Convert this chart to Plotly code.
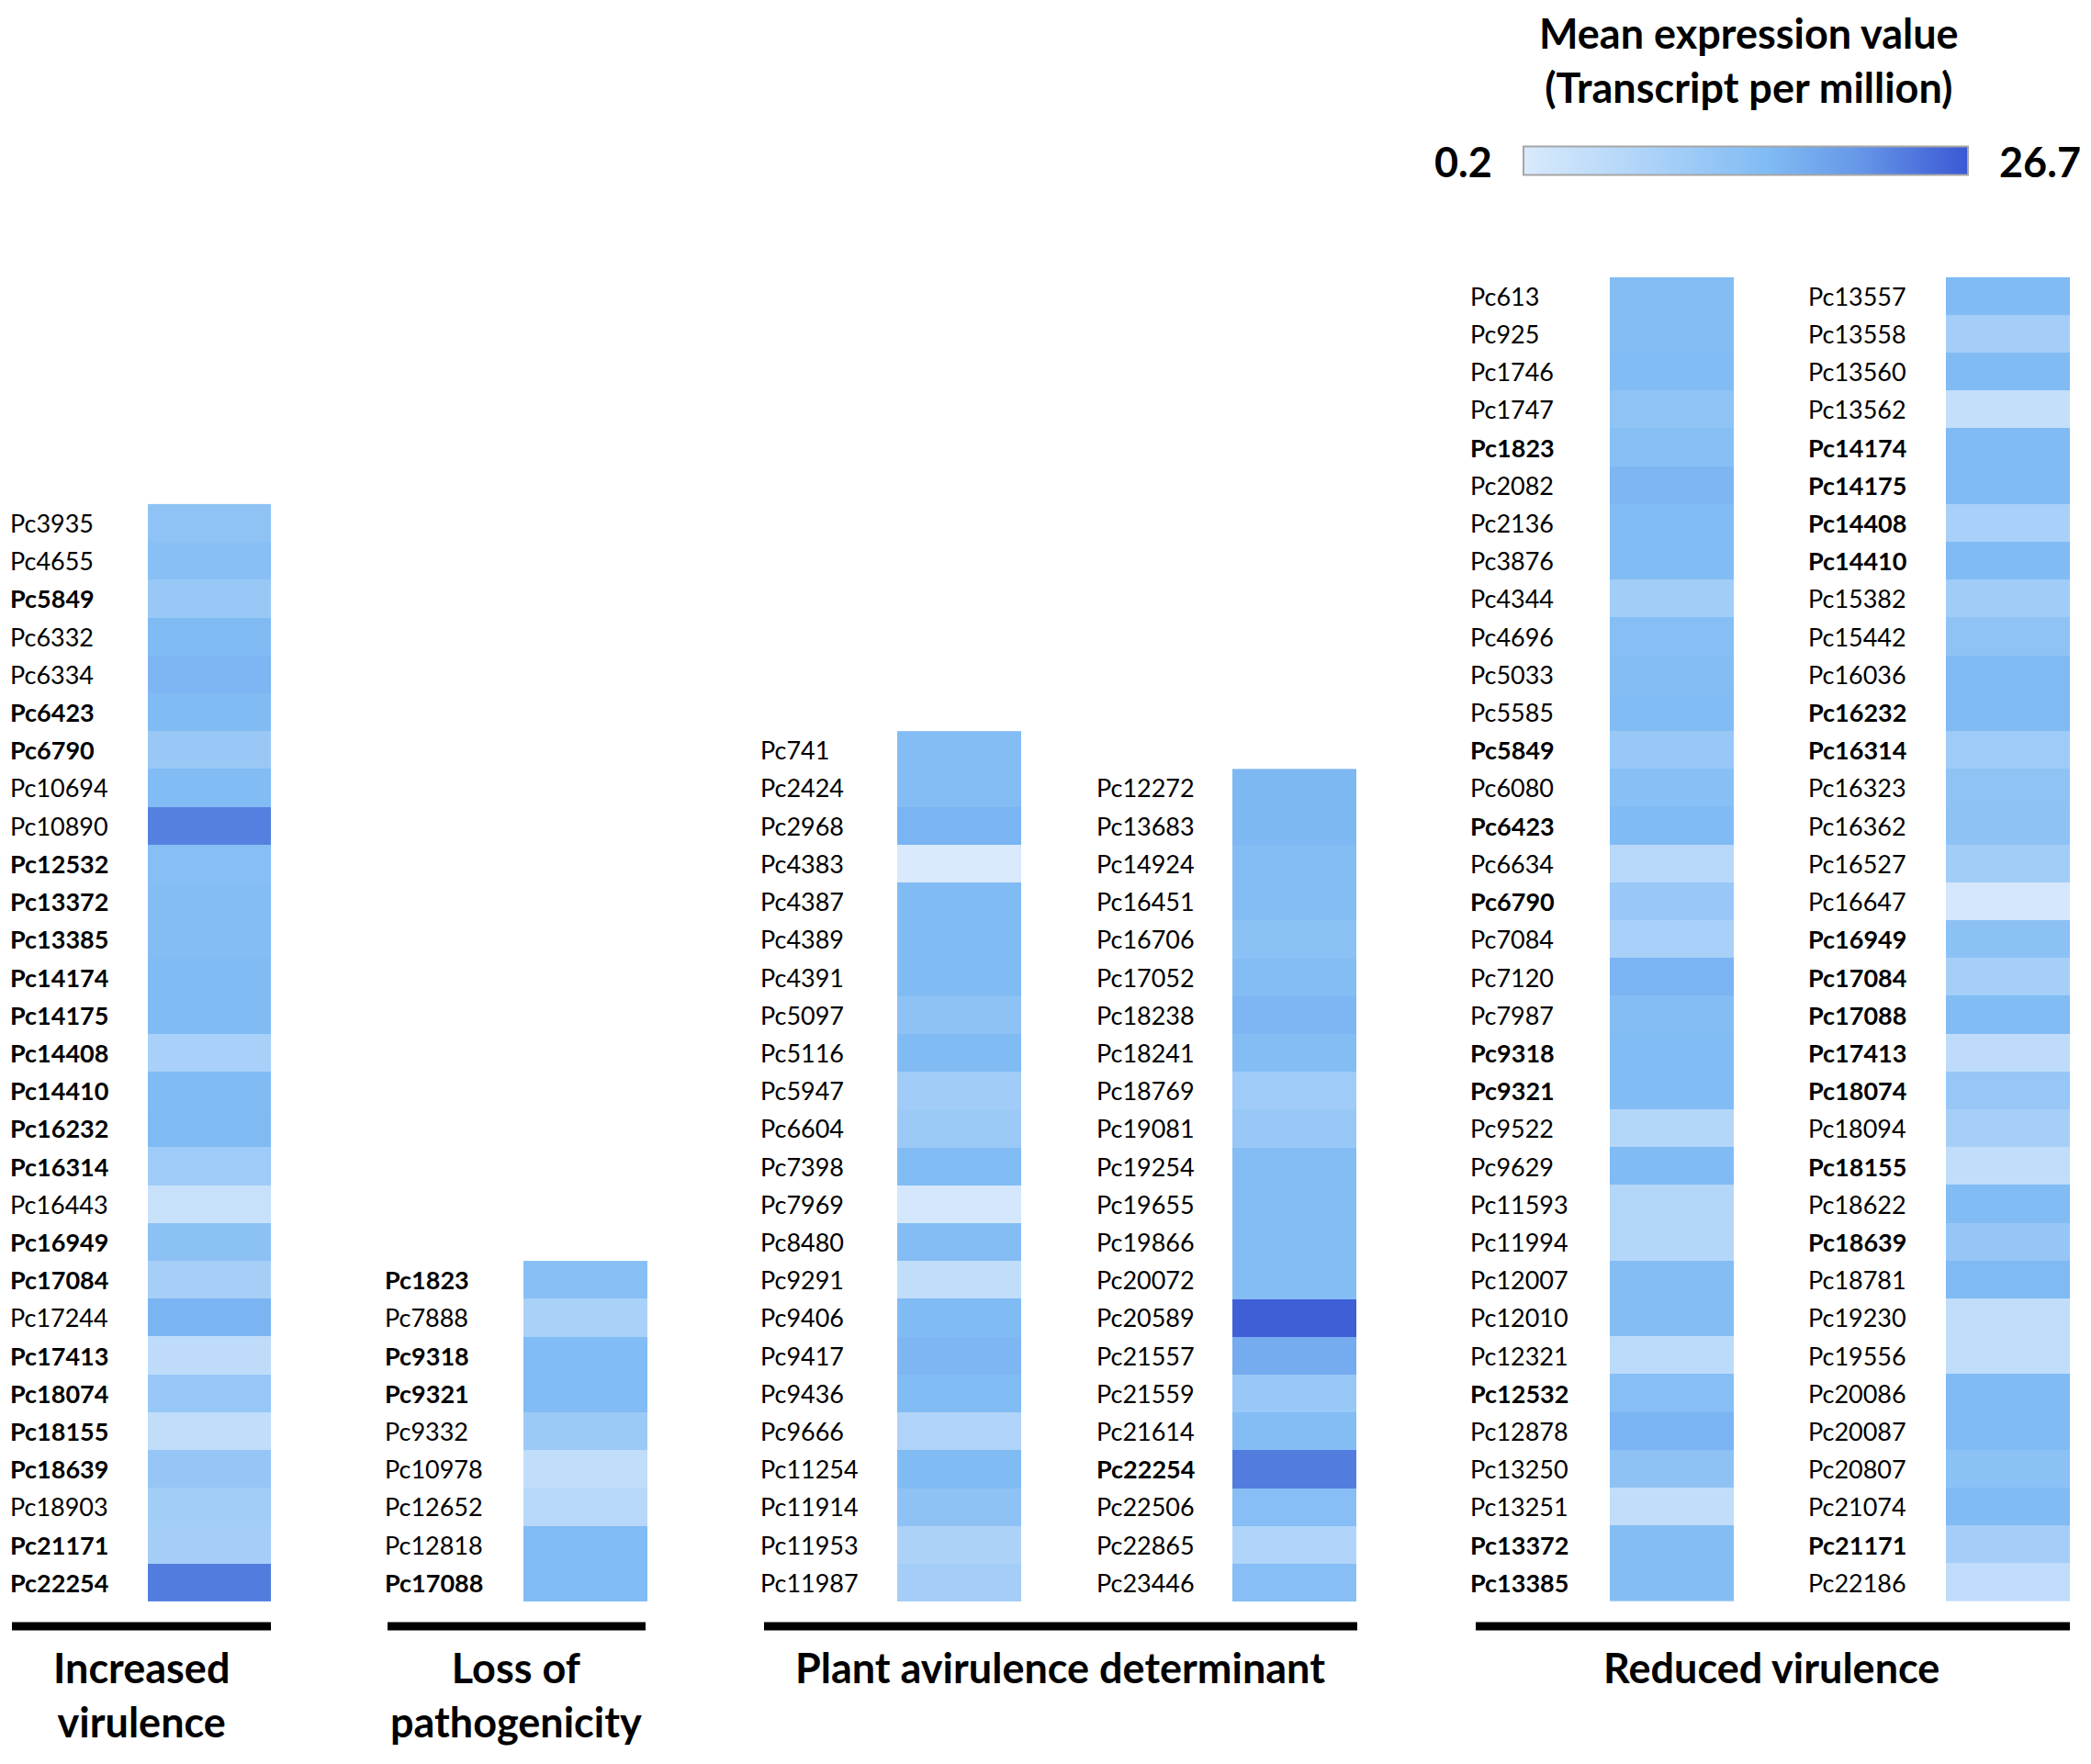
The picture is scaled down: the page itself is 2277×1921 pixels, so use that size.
import plotly.graph_objects as go

# ---------------- data ----------------
inc_genes = ["Pc3935", "Pc4655", "Pc5849", "Pc6332", "Pc6334", "Pc6423", "Pc6790", "Pc10694",
             "Pc10890", "Pc12532", "Pc13372", "Pc13385", "Pc14174", "Pc14175", "Pc14408",
             "Pc14410", "Pc16232", "Pc16314", "Pc16443", "Pc16949", "Pc17084", "Pc17244",
             "Pc17413", "Pc18074", "Pc18155", "Pc18639", "Pc18903", "Pc21171", "Pc22254"]
inc_bold = ["Pc5849", "Pc6423", "Pc6790", "Pc12532", "Pc13372", "Pc13385", "Pc14174", "Pc14175",
            "Pc14408", "Pc14410", "Pc16232", "Pc16314", "Pc16949", "Pc17084", "Pc17413",
            "Pc18074", "Pc18155", "Pc18639", "Pc21171", "Pc22254"]
inc_vals = [12.3, 13.5, 11.0, 14.8, 15.5, 14.8, 10.8, 14.6, 22.6, 13.8, 14.1, 14.1, 14.8, 14.8,
            8.5, 14.8, 15.0, 10.0, 3.1, 12.9, 8.8, 15.8, 4.8, 11.3, 4.4, 11.5, 9.4, 9.1, 23.0]

loss_genes = ["Pc1823", "Pc7888", "Pc9318", "Pc9321", "Pc9332", "Pc10978", "Pc12652",
              "Pc12818", "Pc17088"]
loss_bold = ["Pc1823", "Pc9318", "Pc9321", "Pc17088"]
loss_vals = [13.7, 8.2, 14.6, 14.6, 10.4, 4.4, 5.8, 14.6, 14.6]

avr1_genes = ["Pc741", "Pc2424", "Pc2968", "Pc4383", "Pc4387", "Pc4389", "Pc4391", "Pc5097",
              "Pc5116", "Pc5947", "Pc6604", "Pc7398", "Pc7969", "Pc8480", "Pc9291", "Pc9406",
              "Pc9417", "Pc9436", "Pc9666", "Pc11254", "Pc11914", "Pc11953", "Pc11987"]
avr1_bold = []
avr1_vals = [14.1, 14.1, 15.8, 0.3, 14.8, 14.8, 14.8, 12.6, 14.8, 9.7, 10.4, 14.5, 1.0, 14.1,
             4.4, 14.8, 15.5, 14.6, 7.1, 14.8, 12.6, 7.8, 9.1]

avr2_genes = ["Pc12272", "Pc13683", "Pc14924", "Pc16451", "Pc16706", "Pc17052", "Pc18238",
              "Pc18241", "Pc18769", "Pc19081", "Pc19254", "Pc19655", "Pc19866", "Pc20072",
              "Pc20589", "Pc21557", "Pc21559", "Pc21614", "Pc22254", "Pc22506", "Pc22865",
              "Pc23446"]
avr2_bold = ["Pc22254"]
avr2_vals = [15.3, 15.3, 14.1, 14.1, 12.9, 14.1, 15.5, 14.3, 10.0, 11.0, 14.2, 14.1, 14.1, 14.1,
             26.0, 17.2, 11.0, 14.3, 23.0, 13.9, 7.1, 13.8]

red1_genes = ["Pc613", "Pc925", "Pc1746", "Pc1747", "Pc1823", "Pc2082", "Pc2136", "Pc3876",
              "Pc4344", "Pc4696", "Pc5033", "Pc5585", "Pc5849", "Pc6080", "Pc6423", "Pc6634",
              "Pc6790", "Pc7084", "Pc7120", "Pc7987", "Pc9318", "Pc9321", "Pc9522", "Pc9629",
              "Pc11593", "Pc11994", "Pc12007", "Pc12010", "Pc12321", "Pc12532", "Pc12878",
              "Pc13250", "Pc13251", "Pc13372", "Pc13385"]
red1_bold = ["Pc1823", "Pc5849", "Pc6423", "Pc6790", "Pc9318", "Pc9321", "Pc12532",
             "Pc13372", "Pc13385"]
red1_vals = [14.1, 14.1, 14.5, 12.3, 13.7, 15.5, 14.5, 14.5, 9.4, 13.8, 14.1, 14.5, 11.0, 13.5,
             14.8, 5.8, 10.8, 8.5, 15.8, 14.1, 14.6, 14.6, 6.5, 14.8, 6.5, 6.5, 14.1, 14.1, 5.1,
             13.8, 15.8, 12.6, 4.4, 14.1, 14.1]

red2_genes = ["Pc13557", "Pc13558", "Pc13560", "Pc13562", "Pc14174", "Pc14175", "Pc14408",
              "Pc14410", "Pc15382", "Pc15442", "Pc16036", "Pc16232", "Pc16314", "Pc16323",
              "Pc16362", "Pc16527", "Pc16647", "Pc16949", "Pc17084", "Pc17088", "Pc17413",
              "Pc18074", "Pc18094", "Pc18155", "Pc18622", "Pc18639", "Pc18781", "Pc19230",
              "Pc19556", "Pc20086", "Pc20087", "Pc20807", "Pc21074", "Pc21171", "Pc22186"]
red2_bold = ["Pc14174", "Pc14175", "Pc14408", "Pc14410", "Pc16232", "Pc16314", "Pc16949",
             "Pc17084", "Pc17088", "Pc17413", "Pc18074", "Pc18155", "Pc18639", "Pc21171"]
red2_vals = [14.8, 9.1, 14.8, 3.8, 14.8, 14.8, 8.5, 14.8, 9.7, 12.3, 15.0, 15.0, 10.0, 12.3,
             12.6, 9.4, 1.0, 12.9, 8.8, 14.6, 4.8, 11.3, 8.8, 4.4, 14.6, 11.5, 15.0, 4.4, 4.4,
             14.8, 14.8, 12.9, 14.8, 9.1, 4.6]

categories = ["Increased<br>virulence", "Loss of<br>pathogenicity",
              "Plant avirulence determinant", "Reduced virulence"]
z_min, z_max = 0.2, 26.7
cbar_title = "Mean expression value<br>(Transcript per million)"
cbar_min_label, cbar_max_label = "0.2", "26.7"

# ---------------- layout constants ----------------
OFF = 8                      # default page body margin
W, H = 2277 - 2 * OFF, 1921 - 2 * OFF
FONT = "Lato, Carlito, 'Noto Sans', sans-serif"
colorscale = [[0.0, "#d9eafc"], [0.3, "#aad1f8"], [0.55, "#80bbf4"],
              [0.75, "#6798e8"], [1.0, "#3a58d4"]]

columns = [
    (inc_genes, inc_bold, inc_vals, (161, 295), 9),
    (loss_genes, loss_bold, loss_vals, (570, 705), 417),
    (avr1_genes, avr1_bold, avr1_vals, (977, 1112), 826),
    (avr2_genes, avr2_bold, avr2_vals, (1342, 1477), 1192),
    (red1_genes, red1_bold, red1_vals, (1753, 1888), 1599),
    (red2_genes, red2_bold, red2_vals, (2119, 2254), 1967),
]

NROWS = 35
ROW_H = 41.21
BOTTOM_PX = 1744
TOP_PX = BOTTOM_PX - NROWS * ROW_H


def px_x(p):
    return (p - OFF) / W


def px_y(p):
    return 1 - (p - OFF) / H


fig = go.Figure()
annotations = []
layout_axes = {}

for i, (genes, bold, vals, (x0, x1), lab_x) in enumerate(columns):
    n = len(genes)
    ys = list(range(n - 1, -1, -1))
    axn = "" if i == 0 else str(i + 1)
    fig.add_trace(go.Heatmap(
        z=[[v] for v in vals], x=[0], y=ys,
        xaxis="x" + axn, yaxis="y",
        colorscale=colorscale, zmin=z_min, zmax=z_max,
        showscale=(i == 0),
        colorbar=dict(orientation="h", x=px_x(1901), xanchor="center",
                      y=px_y(176), yanchor="middle", lenmode="pixels", len=484,
                      thickness=31, outlinecolor="#a6a6a6", outlinewidth=2,
                      showticklabels=False, ticks="", xpad=0, ypad=0),
        hovertemplate="%{text}: %{z}<extra></extra>",
        text=[[g] for g in genes],
    ))
    layout_axes["xaxis" + axn] = dict(domain=[px_x(x0), px_x(x1)], range=[-0.5, 0.5],
                                      visible=False, anchor="y", fixedrange=True)
    for g, y in zip(genes, ys):
        t = f"<b>{g}</b>" if g in bold else g
        annotations.append(dict(text=t, x=px_x(lab_x), xref="paper", y=y, yref="y",
                                xanchor="left", yanchor="middle", showarrow=False,
                                font=dict(family=FONT, size=27, color="black")))

layout_axes["yaxis"] = dict(domain=[px_y(BOTTOM_PX), px_y(TOP_PX)],
                            range=[-0.5, NROWS - 0.5], visible=False, fixedrange=True)

# group bars and titles
bars = [(13, 295), (422, 703), (832, 1478), (1607, 2254)]
title_x = [154, 562, 1154, 1929]
shapes = []
for (b0, b1) in bars:
    shapes.append(dict(type="line", xref="paper", yref="paper", x0=px_x(b0), x1=px_x(b1),
                       y0=px_y(1771), y1=px_y(1771), line=dict(color="black", width=9)))
for cat, tx in zip(categories, title_x):
    annotations.append(dict(text=f"<b>{cat}</b>", x=px_x(tx), y=px_y(1788), xref="paper",
                            yref="paper", xanchor="center", yanchor="top", showarrow=False,
                            align="center", borderpad=0,
                            font=dict(family=FONT, size=45, color="black")))

annotations.append(dict(text=f"<b>{cbar_title}</b>", x=px_x(1904), y=1.0, xref="paper",
                        yref="paper", xanchor="center", yanchor="top", showarrow=False,
                        align="center", borderpad=0,
                        font=dict(family=FONT, size=45, color="black")))
annotations.append(dict(text=f"<b>{cbar_min_label}</b>", x=px_x(1593), y=px_y(176),
                        xref="paper", yref="paper", xanchor="center", yanchor="middle",
                        showarrow=False, font=dict(family=FONT, size=45, color="black")))
annotations.append(dict(text=f"<b>{cbar_max_label}</b>", x=px_x(2221), y=px_y(176),
                        xref="paper", yref="paper", xanchor="center", yanchor="middle",
                        showarrow=False, font=dict(family=FONT, size=45, color="black")))

fig.update_layout(
    width=W, height=H,
    margin=dict(l=0, r=0, t=0, b=0),
    paper_bgcolor="white", plot_bgcolor="white",
    annotations=annotations, shapes=shapes,
    font=dict(family=FONT),
    **layout_axes,
)

fig.write_html("out.html", config={"displayModeBar": False})
